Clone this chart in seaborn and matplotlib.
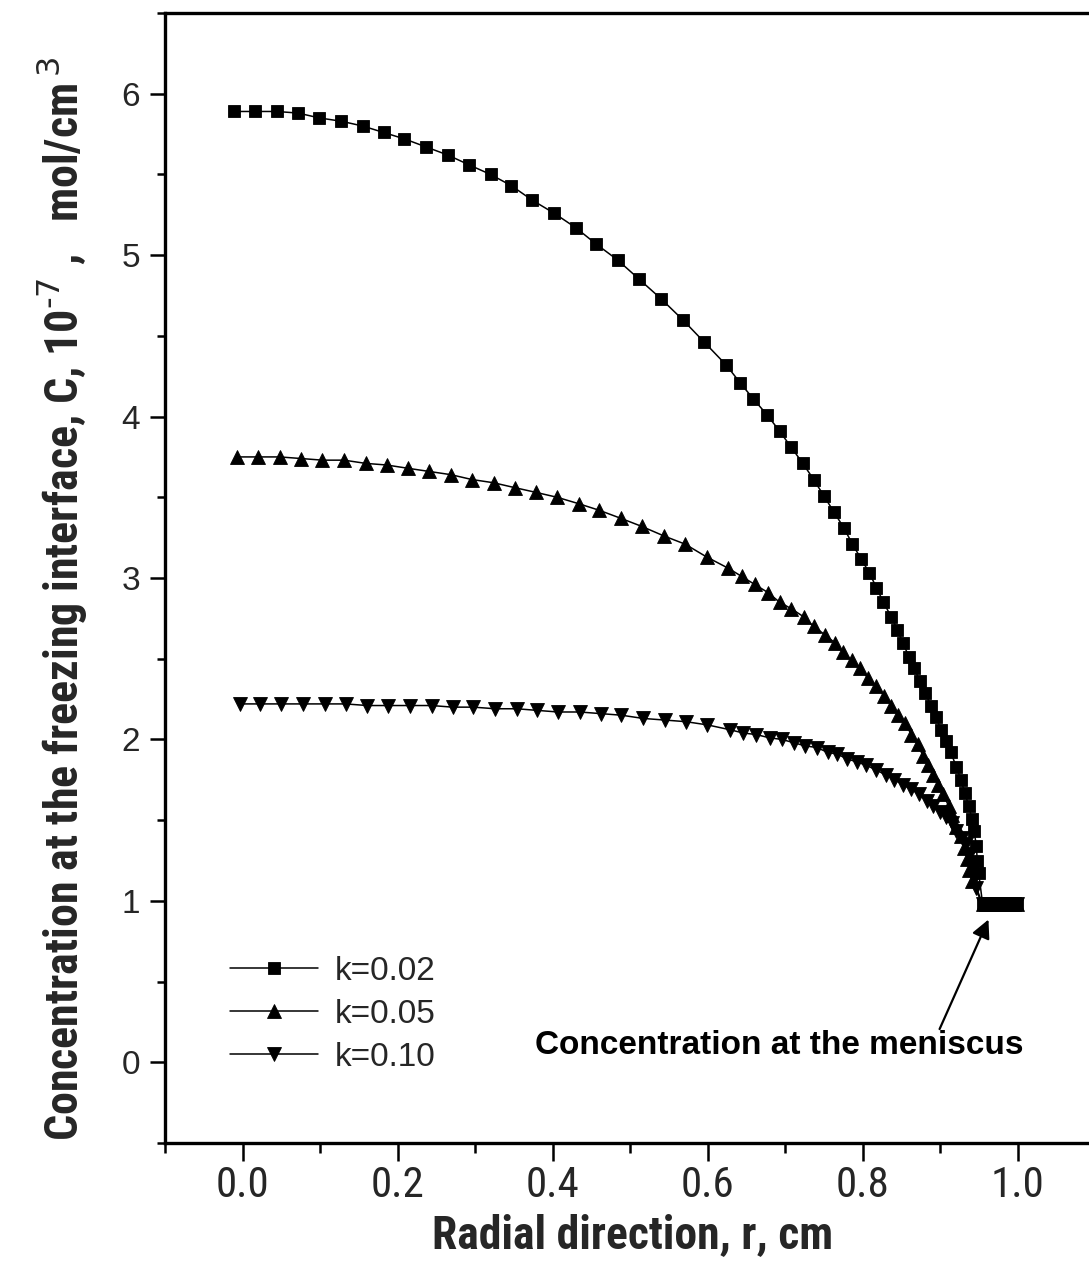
import os
import numpy as np
import pandas as pd
import matplotlib
matplotlib.use("Agg")
import matplotlib.pyplot as plt
from matplotlib import font_manager as fm
from matplotlib.ticker import MultipleLocator, FormatStrFormatter
import seaborn as sns

# Radial position r (cm) and interface concentration C (10^-7 mol/cm^3)
r_k002 = [-0.011, 0.016, 0.044, 0.072, 0.099, 0.127, 0.155, 0.182, 0.209, 0.237,
          0.265, 0.292, 0.320, 0.347, 0.374, 0.402, 0.430, 0.456, 0.484, 0.512,
          0.540, 0.568, 0.596, 0.624, 0.642, 0.659, 0.677, 0.693, 0.708, 0.723,
          0.737, 0.750, 0.763, 0.776, 0.787, 0.798, 0.809, 0.818, 0.827, 0.837,
          0.845, 0.852, 0.860, 0.867, 0.874, 0.881, 0.888, 0.895, 0.901, 0.908,
          0.914, 0.921, 0.927, 0.932, 0.937, 0.941, 0.944, 0.947, 0.948, 0.950]
C_k002 = [5.89, 5.89, 5.89, 5.88, 5.85, 5.83, 5.80, 5.76, 5.72, 5.67,
          5.62, 5.56, 5.50, 5.43, 5.34, 5.26, 5.17, 5.07, 4.97, 4.85,
          4.73, 4.60, 4.46, 4.32, 4.21, 4.11, 4.01, 3.91, 3.81, 3.71,
          3.61, 3.51, 3.41, 3.31, 3.21, 3.12, 3.03, 2.94, 2.85, 2.76,
          2.68, 2.60, 2.51, 2.44, 2.36, 2.29, 2.21, 2.14, 2.06, 1.99,
          1.92, 1.83, 1.75, 1.67, 1.59, 1.51, 1.43, 1.34, 1.25, 1.17]

r_k005 = [-0.007, 0.020, 0.048, 0.076, 0.103, 0.131, 0.159, 0.186, 0.213, 0.241,
          0.269, 0.296, 0.324, 0.351, 0.379, 0.406, 0.434, 0.460, 0.488, 0.515,
          0.544, 0.571, 0.599, 0.627, 0.644, 0.661, 0.678, 0.693, 0.708, 0.724,
          0.737, 0.751, 0.764, 0.775, 0.786, 0.797, 0.807, 0.818, 0.828, 0.837,
          0.846, 0.855, 0.863, 0.871, 0.878, 0.885, 0.891, 0.898, 0.904, 0.911,
          0.916, 0.921, 0.927, 0.931, 0.935, 0.938, 0.941]
C_k005 = [3.75, 3.75, 3.75, 3.74, 3.73, 3.73, 3.71, 3.70, 3.68, 3.66,
          3.64, 3.61, 3.59, 3.56, 3.53, 3.50, 3.46, 3.42, 3.37, 3.32,
          3.26, 3.21, 3.13, 3.06, 3.01, 2.96, 2.91, 2.85, 2.81, 2.76,
          2.70, 2.65, 2.60, 2.54, 2.49, 2.44, 2.38, 2.33, 2.27, 2.21,
          2.15, 2.10, 2.03, 1.97, 1.90, 1.84, 1.78, 1.72, 1.66, 1.59,
          1.53, 1.46, 1.40, 1.33, 1.26, 1.19, 1.12]

r_k010 = [-0.003, 0.023, 0.050, 0.078, 0.106, 0.133, 0.161, 0.188, 0.216, 0.244,
          0.271, 0.298, 0.326, 0.354, 0.380, 0.407, 0.435, 0.462, 0.489, 0.517,
          0.545, 0.572, 0.600, 0.629, 0.646, 0.663, 0.680, 0.696, 0.711, 0.726,
          0.741, 0.755, 0.767, 0.780, 0.793, 0.805, 0.818, 0.830, 0.841, 0.852,
          0.863, 0.873, 0.883, 0.891, 0.900, 0.908, 0.915, 0.921, 0.928, 0.933,
          0.939, 0.943, 0.946, 0.947]
C_k010 = [2.22, 2.22, 2.22, 2.22, 2.22, 2.22, 2.21, 2.21, 2.21, 2.21,
          2.20, 2.20, 2.19, 2.19, 2.18, 2.17, 2.17, 2.16, 2.15, 2.13,
          2.12, 2.11, 2.09, 2.06, 2.04, 2.03, 2.01, 2.00, 1.98, 1.96,
          1.95, 1.92, 1.91, 1.88, 1.86, 1.84, 1.81, 1.78, 1.75, 1.72,
          1.69, 1.66, 1.62, 1.59, 1.55, 1.52, 1.48, 1.43, 1.39, 1.35,
          1.29, 1.23, 1.16, 1.08]

# Meniscus segment shared by all three runs
r_meniscus = [0.955, 0.960, 0.965, 0.970, 0.975, 0.980, 0.985, 0.990, 0.995, 1.000]
C_meniscus = [0.98, 0.98, 0.98, 0.98, 0.98, 0.98, 0.98, 0.98, 0.98, 0.98]

series_labels = ["k=0.02", "k=0.05", "k=0.10"]
series_markers = ["s", "^", "v"]
series_msize = [8, 10, 10]

frames = []
for lab, r, c in zip(series_labels, [r_k002, r_k005, r_k010], [C_k002, C_k005, C_k010]):
    frames.append(pd.DataFrame({"r": r + r_meniscus, "C": c + C_meniscus, "k": lab}))
df = pd.concat(frames, ignore_index=True)


# ---- condensed sans face lookup (axis titles and x tick labels use a narrow face)
def find_condensed(bold):
    entries = []
    for f in fm.fontManager.ttflist:
        fn = os.path.basename(f.fname).lower()
        nm = f.name.lower()
        if f.style != "normal":
            continue
        if "serif" in fn or "mono" in fn or "serif" in nm or "mono" in nm:
            continue
        cond = ("narrow" in fn or "condensed" in fn or "narrow" in nm or "condensed" in nm
                or str(f.stretch) in ("condensed", "extra-condensed", "ultra-condensed"))
        if not cond or "semicond" in fn or "semi-cond" in fn or "semi" in nm:
            continue
        bad = ["light", "thin", "medium", "black", "semibold", "extrabold", "heavy", "italic", "oblique"]
        if any(b in fn for b in bad):
            continue
        is_bold = "bold" in fn
        if is_bold != bold:
            continue
        entries.append(f)
    for pref in ["liberation", "arimo", "roboto", "dejavu", "noto", "open", ""]:
        for f in entries:
            if pref in os.path.basename(f.fname).lower():
                return f
    return None


cond_bold = find_condensed(True)
cond_reg = find_condensed(False)

sns.set_theme(style="ticks")
plt.rcParams["font.family"] = ["Liberation Sans", "DejaVu Sans"]

if cond_bold is not None:
    fp_title = fm.FontProperties(fname=cond_bold.fname)
    plt.rcParams["mathtext.fontset"] = "custom"
    plt.rcParams["mathtext.rm"] = "{}:weight={}:stretch={}".format(
        cond_bold.name.replace("-", r"\-"), cond_bold.weight, cond_bold.stretch)
    plt.rcParams["mathtext.default"] = "rm"
else:
    fp_title = fm.FontProperties(family="Liberation Sans", weight="bold")
    plt.rcParams["mathtext.fontset"] = "custom"
    plt.rcParams["mathtext.rm"] = "Liberation Sans:bold"
    plt.rcParams["mathtext.default"] = "rm"

if cond_reg is not None:
    fp_xtick = fm.FontProperties(fname=cond_reg.fname, size=31)
else:
    fp_xtick = fm.FontProperties(family="Liberation Sans", size=26)

W, H = 1089, 1278
fig = plt.figure(figsize=(W / 100, H / 100), dpi=100)
ax = fig.add_axes([165 / W, 135 / H, 930 / W, 1130 / H])

for lab, mk, ms in zip(series_labels, series_markers, series_msize):
    sns.lineplot(data=df[df["k"] == lab], x="r", y="C", ax=ax, sort=False,
                 estimator=None, color="black", linewidth=1.1, marker=mk,
                 markersize=ms, markeredgecolor="black", markeredgewidth=0.6,
                 legend=False)

ax.set_xlim(-0.1, 1.1)
ax.set_ylim(-0.5, 6.5)
ax.xaxis.set_major_locator(MultipleLocator(0.2))
ax.xaxis.set_minor_locator(MultipleLocator(0.1))
ax.xaxis.set_major_formatter(FormatStrFormatter("%.1f"))
ax.yaxis.set_major_locator(MultipleLocator(1))
ax.yaxis.set_minor_locator(MultipleLocator(0.5))

for side in ["left", "bottom", "top", "right"]:
    ax.spines[side].set_linewidth(2.4)
    ax.spines[side].set_color("black")

ax.tick_params(axis="x", which="major", direction="out", length=13, width=1.8, color="black", pad=3)
ax.tick_params(axis="x", which="minor", direction="out", length=7, width=1.8, color="black")
ax.tick_params(axis="y", which="major", direction="out", length=11, width=1.8, color="black", pad=7)
ax.tick_params(axis="y", which="minor", direction="out", length=6, width=1.8, color="black")

for t in ax.get_xticklabels():
    t.set_fontproperties(fp_xtick)
for t in ax.get_yticklabels():
    t.set_fontfamily("Liberation Sans")
    t.set_fontsize(24)

xlab = ax.set_xlabel("Radial direction, r, cm", fontproperties=fp_title)
xlab.set_fontsize(34)
ylab = ax.set_ylabel(r"Concentration at the freezing interface, C, 10$^{\text{-}7}$ ,   mol/cm$^{\,3}$",
                     fontproperties=fp_title)
ylab.set_fontsize(32)

# scale both axis titles so they span the intended length
fig.canvas.draw()
rend = fig.canvas.get_renderer()
bb = xlab.get_window_extent(rend)
xlab.set_fontsize(xlab.get_fontsize() * 400.0 / bb.width)
bb = ylab.get_window_extent(rend)
ylab.set_fontsize(ylab.get_fontsize() * 1085.0 / bb.height)

ax.xaxis.set_label_coords(0.503, -0.062)
ax.yaxis.set_label_coords(-0.082, 0.481)

handles = ax.get_lines()[:3]
ax.legend(handles, series_labels, loc="lower left", bbox_to_anchor=(0.07, 0.062),
          frameon=False, fontsize=24, handlelength=2.64, handletextpad=0.5,
          labelspacing=0.36, borderpad=0, borderaxespad=0, numpoints=1)

ax.text(0.693, 0.105, "Concentration at the meniscus", ha="center", va="center",
        fontsize=24, fontweight="bold", color="black")
ax.annotate("", xy=(0.964, 0.90), xytext=(0.898, 0.19),
            arrowprops=dict(arrowstyle="-|>", color="black", lw=1.6, mutation_scale=28))

fig.savefig("out.png", dpi=100)
